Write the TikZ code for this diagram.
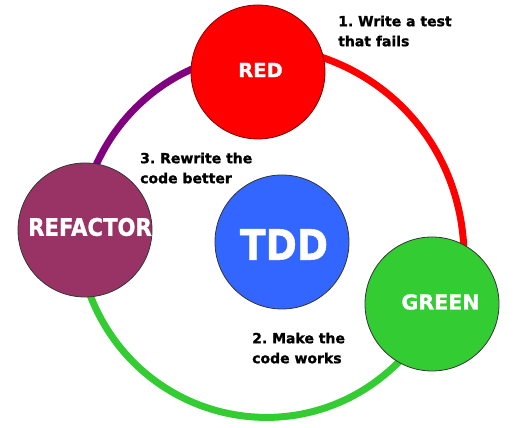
\documentclass[tikz,border=0pt]{standalone}
\usepackage{fontspec}
\setmainfont{DejaVu Sans}
\newfontfamily\heavyfont[FakeBold=1.2]{DejaVu Sans Bold}
\usepackage{graphicx}
\usetikzlibrary{backgrounds}
\definecolor{ringred}{RGB}{255,0,0}
\definecolor{ringpurple}{RGB}{128,0,128}
\definecolor{ringgreen}{RGB}{51,204,51}
\definecolor{fillred}{RGB}{255,0,0}
\definecolor{fillrefactor}{RGB}{153,51,102}
\definecolor{fillgreen}{RGB}{51,204,51}
\definecolor{filltdd}{RGB}{51,102,255}
\definecolor{edgered}{RGB}{130,0,0}
\begin{document}
\frenchspacing
\begin{tikzpicture}[x=1pt,y=1pt,
  phase/.style={circle, minimum size=134pt, inner sep=0pt, line width=0.8pt, draw=black!80},
  ring/.style={line width=7pt, shorten <=-3pt, shorten >=-3pt},
  bigtext/.style={text=white, inner sep=0pt},
  steptext/.style={anchor=north west, align=left, inner sep=0pt, font=\heavyfont\fontsize{14}{20}\selectfont}]
\useasboundingbox (0,0) rectangle (520,428);
% phase circles
\node[phase, fill=fillred, draw=edgered,
  label={[bigtext, font=\heavyfont\fontsize{19.5}{20}\selectfont, xshift=2.5pt, yshift=2pt]center:RED}] (red) at (258,356) {};
\node[phase, fill=fillrefactor,
  label={[bigtext, font=\heavyfont\fontsize{21.2}{22}\selectfont, xshift=5pt, yshift=3pt]center:\scalebox{1}[1.14]{REFACTOR}}] (refactor) at (85,198) {};
\node[phase, fill=fillgreen,
  label={[bigtext, font=\heavyfont\fontsize{20.6}{21}\selectfont, xshift=8.5pt, yshift=2pt]center:GREEN}] (green) at (432,124) {};
\node[phase, fill=filltdd,
  label={[bigtext, font=\heavyfont\fontsize{37.6}{38}\selectfont, xshift=2pt, yshift=-2.5pt]center:\scalebox{1}[1.12]{TDD}}] (tdd) at (282,186) {};
% step texts
\node[steptext] (s1) at (338,412.6) {1. Write a test\\that fails};
\node[steptext] (s3) at (140,275.6) {3. Rewrite the\\code better};
\node[steptext] (s2) at (252,95.6) {2. Make the\\code works};
% ring arcs
\begin{scope}[on background layer]
\fill[white] (0,0) rectangle (520,428);
\draw[ring, ringpurple] (red.178) .. controls +(203.6:45) and +(66:45) .. (refactor.80);
\draw[ring, ringred] (red.12) .. controls +(-18.6:85) and +(92.6:85) .. (green.62);
\draw[ring, ringgreen] (refactor.-85) .. controls +(290.9:136) and +(225.7:136) .. (green.240);
\end{scope}
\end{tikzpicture}
\end{document}
